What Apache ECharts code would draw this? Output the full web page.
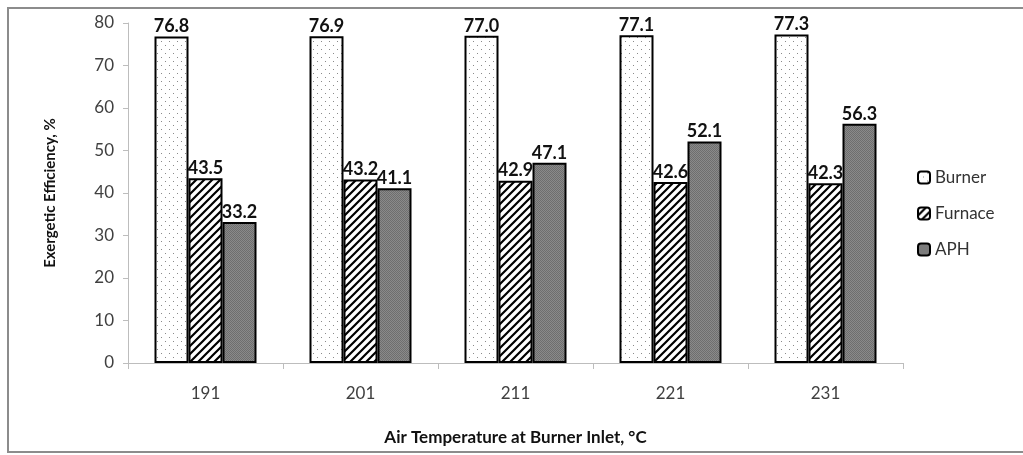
<!DOCTYPE html>
<html>
<head>
<meta charset="utf-8">
<script src="https://cdn.jsdelivr.net/npm/echarts@6/dist/echarts.min.js"></script>
<style>
    html, body { margin: 0; padding: 0; background: #fff; overflow: hidden; }
    #frame { position: absolute; left: 7px; top: 7px; width: 1030px; height: 446px; border: 2px solid #8c8c8c; border-right: none; box-sizing: border-box; }
    #chart { position: absolute; left: 0; top: 0; width: 1023px; height: 455px; }
</style>
</head>
<body>
<div id="frame"></div>
<div id="chart"></div>
<script>
    var categories = ['191', '201', '211', '221', '231'];
    var burner = [76.8, 76.9, 77.0, 77.1, 77.3];
    var furnace = [43.5, 43.2, 42.9, 42.6, 42.3];
    var aph = [33.2, 41.1, 47.1, 52.1, 56.3];
    var yTicks = [0, 80, 10];

    // fill textures
    function dots() {
        var c = document.createElement('canvas');
        c.width = 8; c.height = 8;
        var g = c.getContext('2d');
        g.fillStyle = '#fff'; g.fillRect(0, 0, 8, 8);
        g.fillStyle = '#8a8a8a';
        g.fillRect(1, 1, 1, 1);
        g.fillRect(5, 5, 1, 1);
        return c;
    }
    function hatch() {
        var c = document.createElement('canvas');
        c.width = 8; c.height = 8;
        var g = c.getContext('2d');
        g.fillStyle = '#fff'; g.fillRect(0, 0, 8, 8);
        g.strokeStyle = '#000'; g.lineWidth = 2.2;
        g.beginPath();
        g.moveTo(-2, 10); g.lineTo(10, -2);
        g.moveTo(-6, 6); g.lineTo(6, -6);
        g.moveTo(2, 14); g.lineTo(14, 2);
        g.stroke();
        return c;
    }
    function grey() {
        var c = document.createElement('canvas');
        c.width = 2; c.height = 2;
        var g = c.getContext('2d');
        g.fillStyle = '#8a8a8a'; g.fillRect(0, 0, 2, 2);
        g.fillStyle = '#6e6e6e'; g.fillRect(0, 0, 1, 1); g.fillRect(1, 1, 1, 1);
        return c;
    }

    var labelStyle = {
        show: true,
        position: 'top',
        distance: 1,
        fontFamily: 'Lato',
        fontWeight: 'bold',
        fontSize: 18,
        color: '#111',
        formatter: function (p) { return p.value.toFixed(1); }
    };

    function bar(name, data, img) {
        return {
            name: name,
            type: 'bar',
            data: data,
            barWidth: 34,
            barGap: '0%',
            itemStyle: {
                color: { image: img, repeat: 'repeat' },
                borderColor: '#000',
                borderWidth: 2
            },
            label: labelStyle
        };
    }

    var chart = echarts.init(document.getElementById('chart'));
    chart.setOption({
        animation: false,
        grid: { left: 128, right: 120, top: 23, bottom: 92 },
        legend: {
            orient: 'vertical',
            left: 912,
            top: 164,
            itemWidth: 12,
            itemHeight: 12,
            itemGap: 19,
            textStyle: { fontFamily: 'Lato', fontSize: 17, color: '#333' },
            data: ['Burner', 'Furnace', 'APH']
        },
        xAxis: {
            type: 'category',
            data: categories,
            name: 'Air Temperature at Burner Inlet, °C',
            nameLocation: 'middle',
            nameGap: 66,
            nameTextStyle: { fontFamily: 'Lato', fontWeight: 'bold', fontSize: 17, color: '#111' },
            axisLine: { lineStyle: { color: '#bdbdbd', width: 1 } },
            axisTick: { show: true, length: 6, lineStyle: { color: '#bdbdbd' } },
            axisLabel: { fontFamily: 'Lato', fontSize: 17, color: '#404040', margin: 22 }
        },
        yAxis: {
            type: 'value',
            min: yTicks[0],
            max: yTicks[1],
            interval: yTicks[2],
            name: 'Exergetic Efficiency, %',
            nameLocation: 'middle',
            nameGap: 70,
            nameTextStyle: { fontFamily: 'Lato', fontWeight: 'bold', fontSize: 15, color: '#111' },
            axisLine: { show: true, lineStyle: { color: '#bdbdbd', width: 1 } },
            axisTick: { show: true, length: 5, lineStyle: { color: '#bdbdbd' } },
            splitLine: { show: false },
            axisLabel: { fontFamily: 'Lato', fontSize: 17, color: '#404040', margin: 14 }
        },
        series: [
            bar('Burner', burner, dots()),
            bar('Furnace', furnace, hatch()),
            bar('APH', aph, grey())
        ]
    });
</script>
</body>
</html>
